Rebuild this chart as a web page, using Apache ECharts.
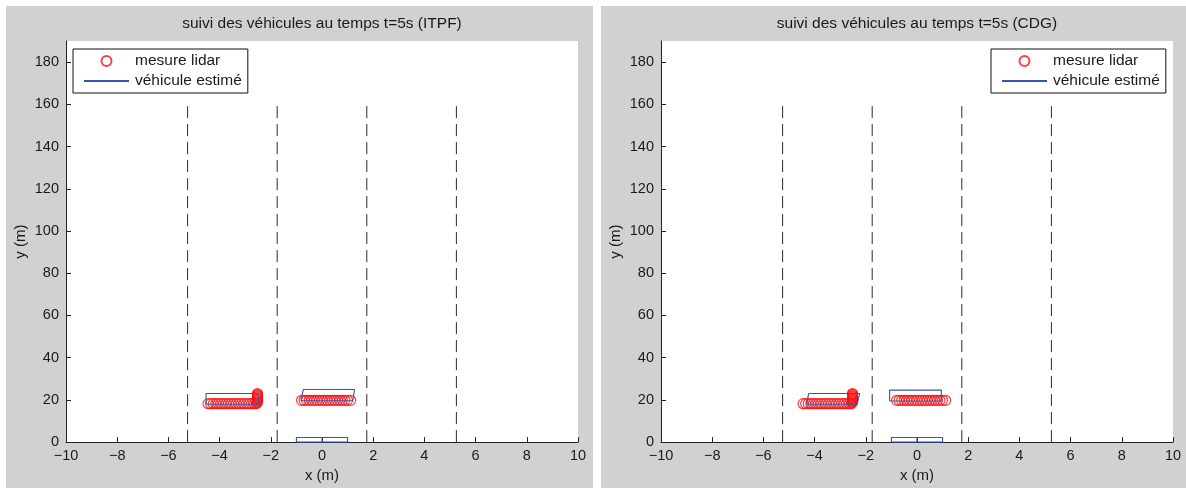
<!DOCTYPE html>
<html><head><meta charset="utf-8">
<script src="https://cdn.jsdelivr.net/npm/echarts@6/dist/echarts.min.js"></script>
<style>html,body{margin:0;padding:0;background:#fff}#c{width:1186px;height:488px}</style>
</head><body><div id="c"></div>
<script>
// ---- data ----
const titles = ['suivi des véhicules au temps t=5s (ITPF)', 'suivi des véhicules au temps t=5s (CDG)'];
const xTicks = [-10, -8, -6, -4, -2, 0, 2, 4, 6, 8, 10];
const yTicks = [0, 20, 40, 60, 80, 100, 120, 140, 160, 180];
const laneX = [-5.25, -1.75, 1.75, 5.25];
const laneYTop = 160;

// lidar measurements (same in both panels)
const lidarX = [-4.45, -4.35, -4.25, -4.15, -4.05, -3.95, -3.85, -3.75, -3.65, -3.55, -3.45, -3.35, -3.25, -3.15, -3.05, -2.95, -2.85, -2.75, -2.65, -2.57,
  -2.53, -2.53, -2.52, -2.52, -2.52, -2.52, -2.52, -2.52, -2.52, -2.52, -2.52, -2.52,
  -0.80, -0.70, -0.60, -0.50, -0.40, -0.30, -0.20, -0.10, 0.00, 0.10, 0.20, 0.30, 0.40, 0.50, 0.60, 0.70, 0.80, 0.90, 1.00, 1.12];
const lidarY = [18.2, 18.2, 18.2, 18.2, 18.2, 18.2, 18.2, 18.2, 18.2, 18.2, 18.2, 18.2, 18.2, 18.2, 18.2, 18.2, 18.2, 18.2, 18.2, 18.2,
  18.6, 19.0, 19.4, 19.8, 20.2, 20.6, 21.0, 21.4, 21.8, 22.2, 22.6, 23.0,
  19.8, 19.8, 19.8, 19.8, 19.8, 19.8, 19.8, 19.8, 19.8, 19.8, 19.8, 19.8, 19.8, 19.8, 19.8, 19.8, 19.8, 19.8, 19.8, 19.8];

// estimated vehicles, ITPF panel
const itpfVeh1X = [-4.53, -2.49, -2.49, -4.53, -4.53];
const itpfVeh1Y = [17.9, 17.9, 23.0, 23.0, 17.9];
const itpfVeh2X = [-0.83, 1.20, 1.27, -0.73, -0.83];
const itpfVeh2Y = [19.6, 19.6, 24.9, 24.9, 19.6];
// estimated vehicles, CDG panel
const cdgVeh1X = [-4.32, -2.34, -2.24, -4.23, -4.32];
const cdgVeh1Y = [17.9, 17.9, 23.0, 23.0, 17.9];
const cdgVeh2X = [-1.07, 0.95, 0.95, -1.07, -1.07];
const cdgVeh2Y = [19.5, 19.5, 24.6, 24.6, 19.5];
// ego vehicle (both panels)
const egoX = [-1.0, 1.0, 1.0, -1.0, -1.0];
const egoY = [0.0, 0.0, 2.2, 2.2, 0.0];
const egoMidX = [0.0, 0.0];
const egoMidY = [0.0, 2.2];

// ---- styles ----
const FONT = 'Liberation Sans';
const TXT = '#1a1a1a';
const BLUE = '#3355aa';
const RED = '#ff1010';
const GRAY = '#d1d1d3';

function zip(xs, ys) { return xs.map((x, i) => [x, ys[i]]); }
const minus = v => String(v).replace('-', '\u2212');

const panels = [
  { left: 66, vehicles: [[itpfVeh1X, itpfVeh1Y], [itpfVeh2X, itpfVeh2Y]], legendLeft: 73 },
  { left: 661, vehicles: [[cdgVeh1X, cdgVeh1Y], [cdgVeh2X, cdgVeh2Y]], legendLeft: 991 }
];

const grid = [], xAxis = [], yAxis = [], series = [], title = [], legend = [];
panels.forEach((p, gi) => {
  grid.push({ left: p.left, top: 41, width: 512, height: 404, show: true, backgroundColor: '#fff', borderWidth: 0 });
  title.push({ text: titles[gi], left: p.left + 256, textAlign: 'center', top: 16, padding: 0,
    textStyle: { fontFamily: FONT, fontSize: 15.5, fontWeight: 'normal', color: TXT } });
  xAxis.push({ gridIndex: gi, type: 'value', min: -10, max: 10, interval: 2,
    name: 'x (m)', nameLocation: 'middle', nameGap: 24,
    nameTextStyle: { fontFamily: FONT, fontSize: 15, color: TXT },
    axisLine: { show: true, onZero: false, lineStyle: { color: '#222', width: 1 } },
    axisTick: { show: true, inside: true, length: 5, customValues: xTicks, lineStyle: { color: '#222' } },
    axisLabel: { customValues: xTicks, margin: 6, formatter: minus, fontFamily: FONT, fontSize: 14.5, color: TXT },
    splitLine: { show: false } });
  yAxis.push({ gridIndex: gi, type: 'value', min: 0, max: 190,
    name: 'y (m)', nameLocation: 'middle', nameGap: 38, nameRotate: 90,
    nameTextStyle: { fontFamily: FONT, fontSize: 15, color: TXT },
    axisLine: { show: true, onZero: false, lineStyle: { color: '#222', width: 1 } },
    axisTick: { show: true, inside: true, length: 5, customValues: yTicks, lineStyle: { color: '#222' } },
    axisLabel: { customValues: yTicks, margin: 7, fontFamily: FONT, fontSize: 14.5, color: TXT },
    splitLine: { show: false } });
  legend.push({ left: p.legendLeft, top: 49, orient: 'vertical', itemWidth: 45, itemHeight: 10, itemGap: 4,
    padding: [4, 6, 4, 10], borderColor: '#111', borderWidth: 1, backgroundColor: '#fff',
    data: [{ name: 'mesure lidar' }, { name: 'véhicule estimé', itemStyle: { opacity: 0 } }], selectedMode: false,
    textStyle: { fontFamily: FONT, fontSize: 15.5, color: TXT, lineHeight: 16, padding: [0, 0, 0, 1] } });

  laneX.forEach((lx, li) => {
    series.push({ name: 'lane' + li, type: 'line', xAxisIndex: gi, yAxisIndex: gi, symbol: 'none', silent: true,
      data: [[lx, 0], [lx, laneYTop]], lineStyle: { color: '#2a2a2a', width: 1, type: [12, 6] }, z: 2 });
  });
  const vehs = p.vehicles.concat([[egoX, egoY], [egoMidX, egoMidY]]);
  vehs.forEach(v => {
    series.push({ name: 'véhicule estimé', type: 'line', xAxisIndex: gi, yAxisIndex: gi, symbol: 'none', showSymbol: false,
      data: zip(v[0], v[1]), lineStyle: { color: BLUE, width: 1.1 }, itemStyle: { color: BLUE }, z: 4 });
  });
  series.push({ name: 'mesure lidar', type: 'scatter', xAxisIndex: gi, yAxisIndex: gi, symbol: 'circle', symbolSize: 10,
    data: zip(lidarX, lidarY), itemStyle: { color: 'rgba(255,255,255,0)', borderColor: RED, borderWidth: 1.2 }, z: 3 });
});

const chart = echarts.init(document.getElementById('c'), null, { renderer: 'canvas' });
chart.setOption({
  animation: false,
  backgroundColor: GRAY,
  title, grid, xAxis, yAxis, legend, series,
  graphic: { elements: [
    { type: 'rect', shape: { x: 0, y: 0, width: 1186, height: 6 }, style: { fill: '#fff' }, silent: true },
    { type: 'rect', shape: { x: 0, y: 0, width: 6, height: 488 }, style: { fill: '#fff' }, silent: true },
    { type: 'rect', shape: { x: 593, y: 0, width: 8, height: 488 }, style: { fill: '#fff' }, silent: true }
  ] }
});
</script></body></html>
